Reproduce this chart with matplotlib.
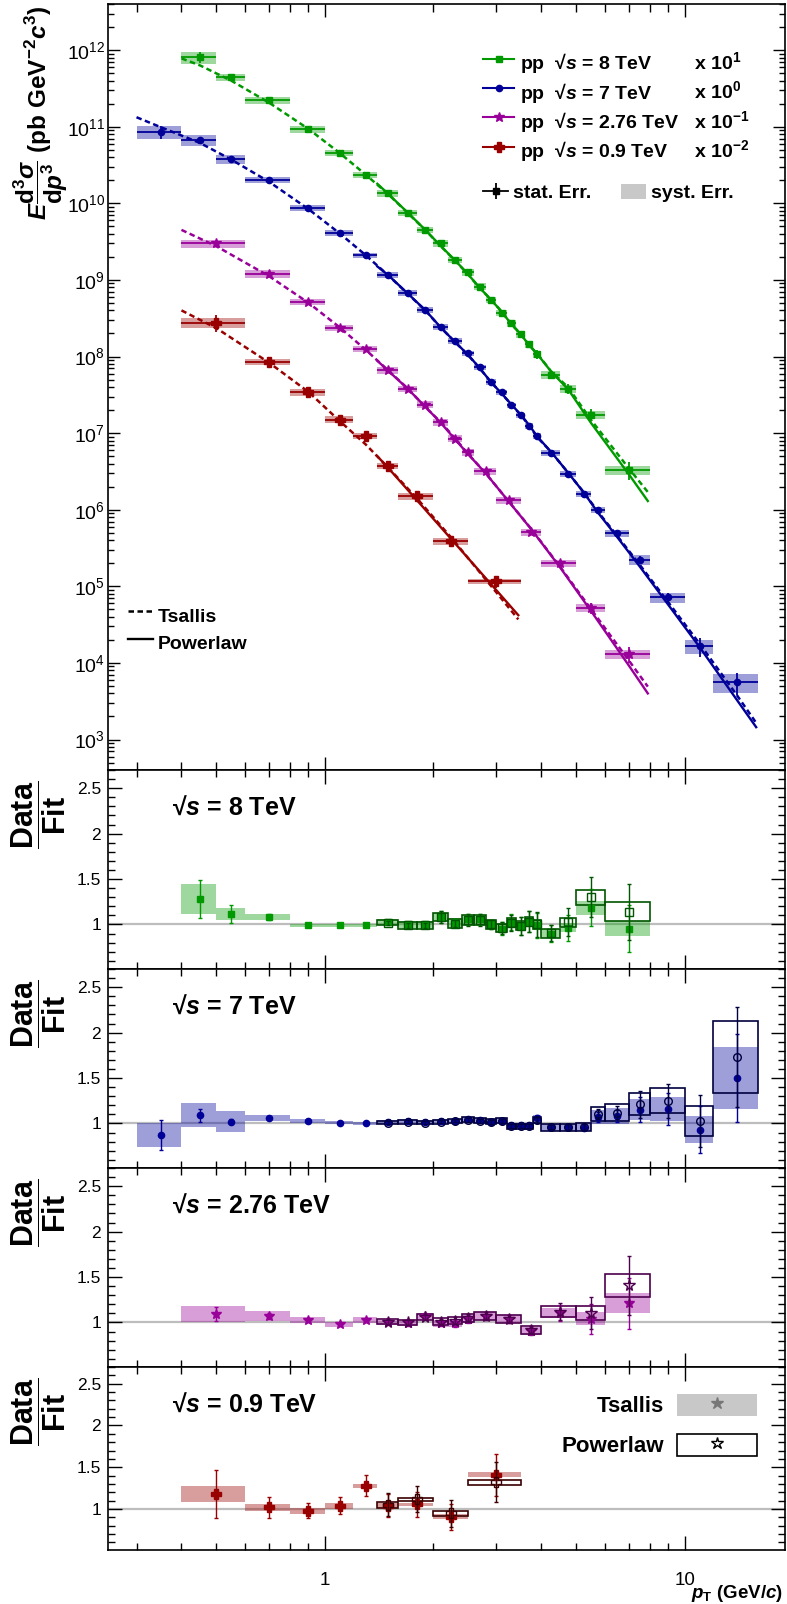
import numpy as np
import matplotlib
matplotlib.use('Agg')
import matplotlib.pyplot as plt
from matplotlib.lines import Line2D
from matplotlib.patches import Patch
from matplotlib.ticker import LogLocator, MultipleLocator, AutoMinorLocator, FuncFormatter, NullFormatter

plt.rcParams['font.family'] = ['Liberation Sans', 'DejaVu Sans']
plt.rcParams['mathtext.fontset'] = 'custom'
plt.rcParams['mathtext.rm'] = 'Liberation Sans:bold'
plt.rcParams['mathtext.it'] = 'Liberation Sans:bold:italic'
plt.rcParams['mathtext.bf'] = 'Liberation Sans:bold'
plt.rcParams['mathtext.sf'] = 'Liberation Sans:bold'

nan = np.nan

# pp 8 TeV (values as plotted, x10)
edges_8 = [0.4, 0.5, 0.6, 0.8, 1.0, 1.2, 1.4, 1.6, 1.8, 2.0, 2.2, 2.4, 2.6, 2.8, 3.0, 3.2, 3.4, 3.6, 3.8, 4.0, 4.5, 5.0, 6.0, 8.0]
yield_8 = [8.1e11, 4.45e11, 2.23e11, 9.3e10, 4.5e10, 2.34e10, 1.36e10, 7.5e9, 4.5e9, 3.0e9, 1.83e9, 1.25e9,
           8.2e8, 5.5e8, 3.7e8, 2.7e8, 1.94e8, 1.44e8, 1.07e8, 5.8e7, 3.8e7, 1.75e7, 3.3e6]
stat_8 = [0.16, 0.085, 0.03, 0.02, 0.01, 0.01, 0.02, 0.025, 0.03, 0.06, 0.04, 0.06, 0.06, 0.05, 0.07, 0.085,
          0.10, 0.11, 0.14, 0.10, 0.15, 0.17, 0.27]
syst_8 = [0.18, 0.11, 0.10, 0.10, 0.09, 0.09, 0.10, 0.10, 0.10, 0.10, 0.10, 0.10, 0.10, 0.10, 0.10, 0.10,
          0.10, 0.10, 0.10, 0.11, 0.11, 0.12, 0.13]
rsyst_8 = [0.13, 0.06, 0.03, 0.02, 0.015, 0.015, 0.03, 0.04, 0.04, 0.04, 0.05, 0.05, 0.05, 0.05, 0.05, 0.05,
           0.05, 0.05, 0.05, 0.055, 0.05, 0.065, 0.09]
ratio_ts_8 = [1.28, 1.115, 1.08, 0.99, 0.99, 0.99, 1.03, 1.00, 1.00, 1.085, 1.02, 1.055, 1.055, 1.00, 0.955,
              1.025, 0.98, 1.03, 0.99, 0.90, 0.965, 1.185, 0.955]
ratio_pl_8 = [nan] * 6 + [1.02, 0.99, 0.99, 1.08, 1.01, 1.05, 1.05, 1.00, 0.96, 1.02, 0.985, 1.03, 1.00,
                          0.905, 1.025, 1.30, 1.14]
ts_ends_8 = [(0.40, 7.8e11), (7.9, 1.7e6)]
pl_ends_8 = [(1.4, 1.8e10), (7.9, 1.3e6)]

# pp 7 TeV
edges_7 = [0.3, 0.4, 0.5, 0.6, 0.8, 1.0, 1.2, 1.4, 1.6, 1.8, 2.0, 2.2, 2.4, 2.6, 2.8, 3.0, 3.2, 3.4, 3.6, 3.8,
           4.0, 4.5, 5.0, 5.5, 6.0, 7.0, 8.0, 10.0, 12.0, 16.0]
yield_7 = [8.6e10, 6.7e10, 3.8e10, 2.03e10, 8.7e9, 4.1e9, 2.1e9, 1.17e9, 6.8e8, 4.1e8, 2.45e8, 1.6e8, 1.1e8,
           7.2e7, 4.7e7, 3.4e7, 2.3e7, 1.7e7, 1.23e7, 9.3e6, 5.5e6, 2.9e6, 1.6e6, 1.0e6, 4.9e5, 2.2e5, 7.2e4,
           1.66e4, 5.6e3]
stat_7 = [0.19, 0.065, 0.03, 0.015, 0.015, 0.015, 0.015, 0.015, 0.015, 0.015, 0.015, 0.015, 0.02, 0.02, 0.02,
          0.02, 0.025, 0.025, 0.025, 0.03, 0.025, 0.03, 0.03, 0.05, 0.06, 0.12, 0.15, 0.28, 0.32]
syst_7 = [0.20, 0.17, 0.14, 0.095, 0.095, 0.085, 0.085, 0.085, 0.085, 0.085, 0.085, 0.085, 0.085, 0.085, 0.085,
          0.085, 0.085, 0.085, 0.09, 0.09, 0.09, 0.09, 0.09, 0.09, 0.10, 0.15, 0.15, 0.21, 0.28]
rsyst_7 = [0.15, 0.12, 0.11, 0.03, 0.02, 0.015, 0.02, 0.02, 0.02, 0.02, 0.02, 0.02, 0.025, 0.025, 0.025, 0.025,
           0.03, 0.03, 0.03, 0.035, 0.04, 0.04, 0.045, 0.07, 0.08, 0.10, 0.11, 0.16, 0.23]
ratio_ts_7 = [0.87, 1.09, 1.02, 1.06, 1.03, 1.01, 1.00, 1.015, 1.03, 1.015, 1.025, 1.03, 1.05, 1.035, 1.02,
              1.03, 0.98, 0.98, 0.98, 1.06, 0.96, 0.96, 0.955, 1.07, 1.08, 1.15, 1.16, 0.93, 1.50]
ratio_pl_7 = [nan] * 7 + [1.01, 1.02, 1.01, 1.02, 1.03, 1.04, 1.03, 1.02, 1.03, 0.97, 0.97, 0.97, 1.04, 0.96,
                          0.96, 0.96, 1.10, 1.12, 1.21, 1.25, 1.03, 1.73]
ts_ends_7 = [(0.30, 1.33e11), (15.8, 1.65e3)]
pl_ends_7 = [(1.4, 1.5e9), (15.8, 1.45e3)]

# pp 2.76 TeV (x10^-1)
edges_276 = [0.4, 0.6, 0.8, 1.0, 1.2, 1.4, 1.6, 1.8, 2.0, 2.2, 2.4, 2.6, 3.0, 3.5, 4.0, 5.0, 6.0, 8.0]
yield_276 = [3.0e9, 1.2e9, 5.2e8, 2.36e8, 1.26e8, 6.6e7, 3.8e7, 2.36e7, 1.38e7, 8.5e6, 5.6e6, 3.2e6, 1.32e6,
             5.1e5, 2.0e5, 5.2e4, 1.3e4]
stat_276 = [0.07, 0.03, 0.02, 0.02, 0.02, 0.025, 0.03, 0.03, 0.03, 0.04, 0.04, 0.04, 0.04, 0.05, 0.08, 0.16, 0.23]
syst_276 = [0.12, 0.12, 0.10, 0.10, 0.10, 0.10, 0.10, 0.10, 0.10, 0.10, 0.10, 0.10, 0.11, 0.10, 0.11, 0.12, 0.13]
rsyst_276 = [0.08, 0.055, 0.03, 0.025, 0.03, 0.03, 0.03, 0.035, 0.035, 0.035, 0.04, 0.045, 0.04, 0.05, 0.05,
             0.07, 0.09]
ratio_ts_276 = [1.09, 1.07, 1.03, 0.98, 1.03, 1.00, 0.99, 1.07, 0.99, 0.99, 1.04, 1.07, 1.04, 0.91, 1.10, 1.04, 1.21]
ratio_pl_276 = [nan] * 5 + [1.01, 1.00, 1.06, 1.01, 1.02, 1.05, 1.07, 1.04, 0.92, 1.12, 1.10, 1.41]
ts_ends_276 = [(0.40, 4.5e9), (7.9, 4.9e3)]
pl_ends_276 = [(1.4, 8.8e7), (7.9, 4.0e3)]

# pp 0.9 TeV (x10^-2)
edges_09 = [0.4, 0.6, 0.8, 1.0, 1.2, 1.4, 1.6, 2.0, 2.5, 3.5]
yield_09 = [2.77e8, 8.5e7, 3.4e7, 1.5e7, 9.1e6, 3.7e6, 1.5e6, 3.9e5, 1.17e5]
stat_09 = [0.24, 0.12, 0.09, 0.10, 0.10, 0.13, 0.14, 0.17, 0.18]
syst_09 = [0.15, 0.10, 0.10, 0.10, 0.09, 0.09, 0.10, 0.10, 0.08]
rsyst_09 = [0.085, 0.04, 0.035, 0.035, 0.02, 0.03, 0.02, 0.03, 0.02]
ratio_ts_09 = [1.18, 1.02, 0.98, 1.04, 1.28, 1.04, 1.055, 0.91, 1.41]
ratio_pl_09 = [nan] * 5 + [1.05, 1.115, 0.95, 1.32]
ts_ends_09 = [(0.40, 4.0e8), (3.45, 3.7e4)]
pl_ends_09 = [(1.4, 5.0e6), (3.45, 4.2e4)]

series = [
    dict(edges=edges_8, y=yield_8, stat=stat_8, syst=syst_8, rsyst=rsyst_8, rts=ratio_ts_8, rpl=ratio_pl_8,
         ts=ts_ends_8, pl=pl_ends_8, color='#009900', dark='#005500', marker='s', ms=4.5,
         label='pp  √$s$ = 8 TeV', mult='x $10^{1}$', tag='√$s$ = 8 TeV'),
    dict(edges=edges_7, y=yield_7, stat=stat_7, syst=syst_7, rsyst=rsyst_7, rts=ratio_ts_7, rpl=ratio_pl_7,
         ts=ts_ends_7, pl=pl_ends_7, color='#000099', dark='#000040', marker='o', ms=4.5,
         label='pp  √$s$ = 7 TeV', mult='x $10^{0}$', tag='√$s$ = 7 TeV'),
    dict(edges=edges_276, y=yield_276, stat=stat_276, syst=syst_276, rsyst=rsyst_276, rts=ratio_ts_276,
         rpl=ratio_pl_276, ts=ts_ends_276, pl=pl_ends_276, color='#990099', dark='#4d004d', marker='*', ms=7.5,
         label='pp  √$s$ = 2.76 TeV', mult='x $10^{-1}$', tag='√$s$ = 2.76 TeV'),
    dict(edges=edges_09, y=yield_09, stat=stat_09, syst=syst_09, rsyst=rsyst_09, rts=ratio_ts_09, rpl=ratio_pl_09,
         ts=ts_ends_09, pl=pl_ends_09, color='#990000', dark='#3a0000', marker='P', ms=6.5,
         label='pp  √$s$ = 0.9 TeV', mult='x $10^{-2}$', tag='√$s$ = 0.9 TeV'),
]

TS_DASH = (0, (2.2, 1.4))
W_PX, H_PX = 787, 1604


def frame(top_px, bot_px):
    return [108 / W_PX, 1 - bot_px / H_PX, 677 / W_PX, (bot_px - top_px) / H_PX]


fig = plt.figure(figsize=(W_PX / 100, H_PX / 100), dpi=100)
ax = fig.add_axes(frame(4, 770))
panel_px = [(770, 969), (969, 1168), (1168, 1367), (1367, 1550)]
rax = [fig.add_axes(frame(t, b), sharex=ax) for t, b in panel_px]

# ---------- spectra ----------
for s in series:
    e = np.array(s['edges'])
    lo, hi = e[:-1], e[1:]
    xc = (lo + hi) / 2
    y = np.array(s['y'])
    st = np.array(s['stat'])
    sy = np.array(s['syst'])
    rts = np.array(s['rts'])
    rpl = np.array(s['rpl'])
    m = ~np.isnan(rpl)

    ax.bar(lo, 2 * sy * y, bottom=y * (1 - sy), width=hi - lo, align='edge',
           color=s['color'], alpha=0.38, lw=0, zorder=1)

    # fit curves (Data/Fit from the ratio panels)
    ts_x = [s['ts'][0][0]] + list(xc) + [s['ts'][1][0]]
    ts_y = [s['ts'][0][1]] + list(y / rts) + [s['ts'][1][1]]
    ax.plot(ts_x, ts_y, ls=TS_DASH, lw=1.8, color=s['color'], zorder=2)
    pl_x = [s['pl'][0][0]] + list(xc[m]) + [s['pl'][1][0]]
    pl_y = [s['pl'][0][1]] + list(y[m] / rpl[m]) + [s['pl'][1][1]]
    ax.plot(pl_x, pl_y, ls='-', lw=1.7, color=s['color'], zorder=2)

    ax.errorbar(xc, y, xerr=[xc - lo, hi - xc], yerr=y * st, fmt=s['marker'], color=s['color'],
                ms=s['ms'], lw=1.3, capsize=0, zorder=3)

ax.set_xscale('log')
ax.set_yscale('log')
ax.set_xlim(0.25, 19)
ax.set_ylim(4e2, 4e12)
ax.yaxis.set_major_locator(LogLocator(base=10, numticks=20))
ax.yaxis.set_minor_locator(LogLocator(base=10, subs=np.arange(2, 10), numticks=20))
ax.tick_params(axis='y', which='major', length=8.5, labelsize=14, pad=2)
ax.tick_params(axis='y', which='minor', length=4.5)
ax.tick_params(axis='x', which='major', length=9.5)
ax.tick_params(axis='x', which='minor', length=5.5)
ax.set_ylabel(r'$E\dfrac{\mathrm{d}^{3}\sigma}{\mathrm{d}p^{3}}\ (\mathrm{pb\ GeV}^{-2}c^{3})$',
              fontsize=17.5, loc='top')
ax.yaxis.set_label_coords(-0.056, 0.998)

# legends of the spectra panel
bold14 = {'weight': 'bold', 'size': 14}
h_data = [Line2D([], [], color=s['color'], marker=s['marker'], ms=s['ms'], lw=1.5) for s in series]
h_none = [Line2D([], [], ls='none') for s in series]
leg1 = ax.legend(h_data + h_none, [s['label'] for s in series] + [s['mult'] for s in series],
                 ncol=2, loc='upper left', bbox_to_anchor=(0.554, 0.942), frameon=False, prop=bold14,
                 handlelength=1.6, handleheight=1.94, handletextpad=0.31, labelspacing=0.0,
                 columnspacing=-1.15, borderpad=0, borderaxespad=0)
ax.add_artist(leg1)

h_stat = (Line2D([], [], color='k', marker='s', ms=4, lw=1.3),
          Line2D([], [], color='k', marker='|', ms=11, mew=1.3, ls='none'))
h_syst = Patch(facecolor='#c8c8c8', edgecolor='none')
leg2 = ax.legend([h_stat, h_syst], ['stat. Err.', 'syst. Err.'], ncol=2, loc='upper left',
                 bbox_to_anchor=(0.554, 0.765), frameon=False, prop=bold14, handlelength=1.3,
                 handleheight=0.82, handletextpad=0.26, columnspacing=1.5, borderpad=0, borderaxespad=0)
ax.add_artist(leg2)

h_fit = [Line2D([], [], color='k', ls=TS_DASH, lw=1.8), Line2D([], [], color='k', lw=1.7)]
ax.legend(h_fit, ['Tsallis', 'Powerlaw'], loc='upper left', bbox_to_anchor=(0.03, 0.220), frameon=False,
          prop=bold14, handlelength=1.25, handleheight=1.8, handletextpad=0.28, labelspacing=0.0,
          borderpad=0, borderaxespad=0)

# ---------- Data/Fit panels ----------
for k, (s, r) in enumerate(zip(series, rax)):
    e = np.array(s['edges'])
    lo, hi = e[:-1], e[1:]
    xc = (lo + hi) / 2
    st = np.array(s['stat'])
    rs = np.array(s['rsyst'])
    rts = np.array(s['rts'])
    rpl = np.array(s['rpl'])
    m = ~np.isnan(rpl)

    r.axhline(1, color='#bdbdbd', lw=1.6, zorder=0)
    r.bar(lo, 2 * rs * rts, bottom=rts * (1 - rs), width=hi - lo, align='edge',
          color=s['color'], alpha=0.38, lw=0, zorder=1)
    r.bar(lo[m], 2 * rs[m] * rpl[m], bottom=rpl[m] * (1 - rs[m]), width=(hi - lo)[m], align='edge',
          fill=False, edgecolor=s['dark'], lw=1.2, zorder=2)
    r.errorbar(xc, rts, yerr=rts * st, fmt=s['marker'], color=s['color'], ms=s['ms'], lw=1.0,
               capsize=1.5, zorder=3)
    r.errorbar(xc[m], rpl[m], yerr=rpl[m] * st[m], fmt=s['marker'], mfc='none', mec=s['dark'],
               ecolor=s['dark'], ms=s['ms'] + 1, lw=1.0, capsize=1.5, zorder=4)

    top_px, bot_px = panel_px[k]
    h = bot_px - top_px
    r.text(0.095, 1 - 38 / h, s['tag'], transform=r.transAxes, fontsize=18, fontweight='bold', va='center')

    r.set_ylim(0.51, 2.7)
    r.yaxis.set_major_locator(MultipleLocator(0.5))
    r.yaxis.set_minor_locator(AutoMinorLocator(5))
    r.yaxis.set_major_formatter(FuncFormatter(lambda v, p: '%g' % v))
    r.tick_params(axis='y', which='major', length=10, labelsize=12.5, pad=5)
    r.tick_params(axis='y', which='minor', length=5)
    r.tick_params(axis='x', which='major', length=10)
    r.tick_params(axis='x', which='minor', length=5)
    r.set_ylabel(r'$\dfrac{\mathrm{Data}}{\mathrm{Fit}}$', fontsize=22, loc='top')
    r.yaxis.set_label_coords(-0.059, 1 - 11 / h)

for a in [ax] + rax:
    a.tick_params(which='both', direction='in', top=True, right=True, width=1.0)
    a.tick_params(axis='x', which='both', labelbottom=False)
    for sp in a.spines.values():
        sp.set_linewidth(1.2)

last = rax[-1]
last.tick_params(axis='x', which='both', labelbottom=True, labelsize=13.5, pad=16)
last.xaxis.set_major_formatter(FuncFormatter(lambda v, p: '%g' % v))
last.xaxis.set_minor_formatter(NullFormatter())
last.set_xlabel(r'$p_{\mathrm{T}}$ (GeV/$c$)', fontsize=13.5, fontweight='bold', loc='right')
last.xaxis.set_label_coords(0.997, -0.18)

# Tsallis / Powerlaw box legend in the last panel
h_ts = (Patch(facecolor='#c8c8c8', edgecolor='none'),
        Line2D([], [], marker='*', color='#777777', ms=9, ls='none'))
h_pl = (Patch(facecolor='white', edgecolor='k', lw=1.2),
        Line2D([], [], marker='*', mfc='none', mec='k', ms=9, ls='none'))
last.legend([h_ts, h_pl], ['Tsallis', 'Powerlaw'], loc='upper right', bbox_to_anchor=(0.959, 0.855),
            markerfirst=False, frameon=False, prop={'weight': 'bold', 'size': 16}, handlelength=3.6,
            handleheight=1.15, labelspacing=0.75, handletextpad=0.6, borderpad=0, borderaxespad=0)

fig.savefig('out.png', dpi=100)
